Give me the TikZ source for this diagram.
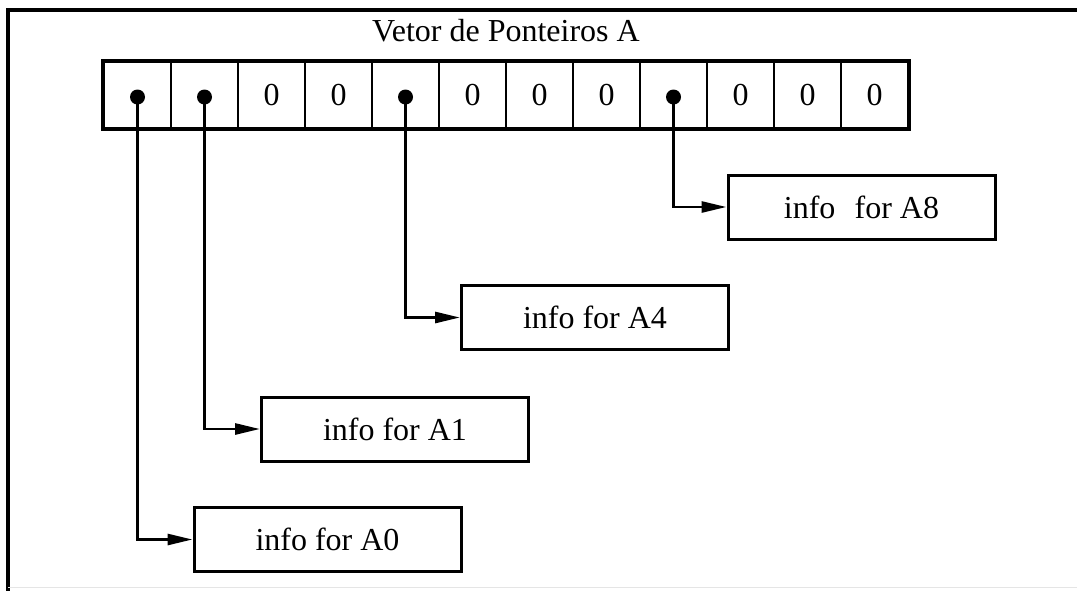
\documentclass[tikz,border=0pt]{standalone}
\usepackage{fontspec}
\setmainfont{Liberation Serif}
\usetikzlibrary{arrows.meta,fit}

\tikzset{
  txt/.style={font=\fontsize{32}{37}\selectfont},
  cell/.style={draw, line width=2.4pt, minimum width=67pt, minimum height=66pt,
               inner sep=0pt, txt},
  arrayframe/.style={draw, line width=4.5pt, inner sep=0pt},
  infobox/.style={draw, line width=3pt, minimum width=267pt, minimum height=64pt,
                  inner sep=0pt, txt},
  dot/.style={circle, fill=black, inner sep=0pt, minimum size=15pt},
  ptr/.style={line width=2.8pt, -{Triangle[length=25pt,width=11pt]}},
  frame/.style={line width=3.2pt, line cap=rect}
}

\begin{document}
\begin{tikzpicture}[x=1pt,y=-1pt]
  \useasboundingbox (0,0) rectangle (1077,590);

  % outer frame (left and top edges run off the page)
  \coordinate (fl) at (8,590);
  \coordinate (fc) at (8,10);
  \coordinate (fr) at (1077,10);
  \draw[frame] (fl) -- (fc) -- (fr);
  \coordinate (bl) at (8,587);
  \coordinate (br) at (1077,587);
  \draw[gray!20, line width=1pt] (bl) -- (br);

  % title
  \node[txt] (title) at (506,31) {Vetor de Ponteiros A};

  % the pointer array: twelve cells
  \foreach \i/\v in {0/,1/,2/0,3/0,4/,5/0,6/0,7/0,8/,9/0,10/0,11/0} {
    \node[cell] (c\i) at ({104+33.5+67*\i},95) {\v};
  }
  \node[arrayframe, fit=(c0)(c11)] (arr) {};

  % records pointed to
  \node[infobox] (b8) at (861.5,207)   {info\hspace{0.6em}for A8};
  \node[infobox] (b4) at (595,317.5)   {info for A4};
  \node[infobox] (b1) at (395,429)     {info for A1};
  \node[infobox] (b0) at (327.5,539.5) {info for A0};

  % pointers
  \foreach \i in {0,1,4,8} {
    \node[dot] (d\i) at ([yshift=-2pt]c\i.center) {};
    \draw[ptr] (d\i.center) |- (b\i.west);
  }
\end{tikzpicture}
\end{document}
